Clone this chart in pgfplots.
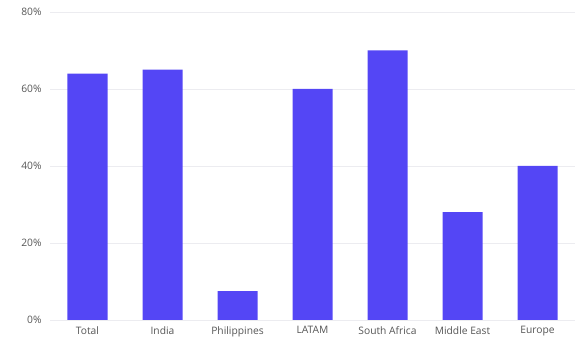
\documentclass[border=0pt]{standalone}
\usepackage{fontspec}
\setmainfont{Open Sans}
\usepackage{pgfplots}
\pgfplotsset{compat=1.18}
\definecolor{barc}{RGB}{84,70,245}
\definecolor{gridc}{RGB}{236,236,240}
\definecolor{labc}{RGB}{85,85,85}
\begin{document}
\begin{tikzpicture}
\begin{axis}[
  scale only axis,
  width=525bp, height=308bp,
  xmin=-0.5, xmax=6.5,
  ymin=0, ymax=80,
  ytick={0,20,40,60,80},
  yticklabel={\pgfmathprintnumber{\tick}\%},
  /pgf/number format/assume math mode=true,
  xtick=data,
  xticklabels={Total,India,Philippines,LATAM,South Africa,Middle East,Europe},
  axis line style={draw=none},
  major tick length=0pt,
  ymajorgrids,
  grid style={gridc, line width=0.8pt},
  tick label style={font=\fontsize{10.3}{12}\selectfont, text=labc},
  yticklabel style={xshift=-5bp},
  xticklabel style={yshift=-3bp},
  clip=false,
]
\addplot[ybar, bar width=40bp, fill=barc, draw=none] coordinates {
  (0,64) (1,65) (2,7.5) (3,60) (4,70) (5,28) (6,40)
};
\end{axis}
\path[use as bounding box] (current axis.south west) ++(-50bp,-23bp) rectangle ([xshift=2bp,yshift=12bp]current axis.north east);
\end{tikzpicture}
\end{document}
